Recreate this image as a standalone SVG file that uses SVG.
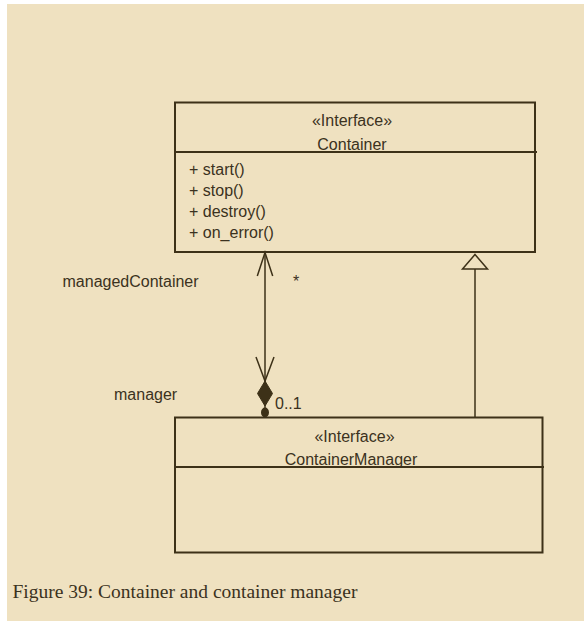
<svg xmlns="http://www.w3.org/2000/svg" width="584" height="621" viewBox="0 0 584 621">
<defs>
<style>
.bg{fill:#efe1c0}
.box{fill:none;stroke:#3d3118;stroke-width:2}
.ln{fill:none;stroke:#3d3118;stroke-width:1.5}
.t{font-family:"Liberation Sans",Arial,sans-serif;font-size:16px;fill:#3b3220}
.c{text-anchor:middle}
.cap{font-family:"Liberation Serif","Times New Roman",serif;font-size:19.5px;fill:#3b3220}
</style>
</defs>
<rect x="0" y="0" width="584" height="621" fill="#ffffff"/>
<rect class="bg" x="7" y="4" width="577" height="617"/>
<g id="connectors">
<g id="association">
<line class="ln" x1="265" y1="252" x2="265" y2="409"/>
<polyline class="ln" points="257.3,276 265,252.5 272.7,276"/>
<polyline class="ln" points="256,357 265,381 274,357"/>
<polygon points="265,381 272.5,393.5 265,406 257.5,393.5" fill="#3d3118" stroke="#3d3118" stroke-width="1"/>
<ellipse cx="265" cy="412.5" rx="4" ry="5" fill="#3d3118"/>
<text class="t" x="62.5" y="287">managedContainer</text>
<text class="t" x="293" y="287">*</text>
<text class="t" x="114" y="400">manager</text>
<text class="t" x="275" y="409">0..1</text>
</g>
<g id="generalization">
<line class="ln" x1="475" y1="269" x2="475" y2="417"/>
<polygon points="475,254.5 487.5,269 462.5,269" fill="#efe1c0" stroke="#3d3118" stroke-width="1.5"/>
</g>
</g>
<g id="Container">
<rect class="box" x="175" y="102.5" width="360" height="149.5"/>
<line class="box" x1="175" y1="152" x2="537" y2="152"/>
<text class="t c" x="352" y="126">«Interface»</text>
<text class="t c" x="352" y="150">Container</text>
<text class="t" x="189" y="175">+ start()</text>
<text class="t" x="189" y="196">+ stop()</text>
<text class="t" x="189" y="217">+ destroy()</text>
<text class="t" x="189" y="238">+ on_error()</text>
</g>
<g id="ContainerManager">
<rect class="box" x="175" y="417.5" width="367.5" height="135"/>
<line class="box" x1="175" y1="467" x2="544" y2="467"/>
<text class="t c" x="354.5" y="442">«Interface»</text>
<text class="t c" x="351" y="465">ContainerManager</text>
</g>
<text class="cap" x="12.5" y="598">Figure 39: Container and container manager</text>
</svg>
